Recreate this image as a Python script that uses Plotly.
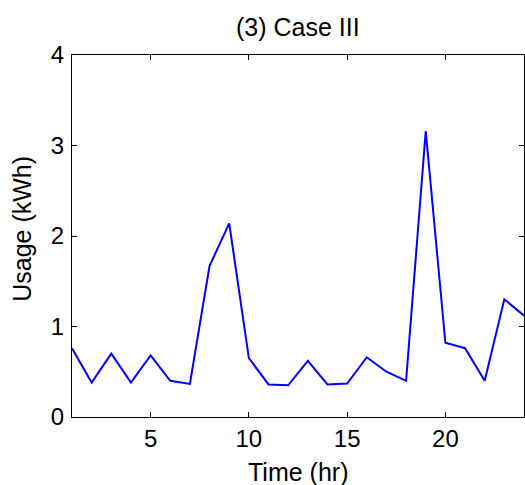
import plotly.graph_objects as go

hours = list(range(1, 25))
usage = [0.76, 0.38, 0.70, 0.38, 0.68, 0.40, 0.365, 1.67, 2.14, 0.65, 0.36, 0.35,
         0.62, 0.36, 0.37, 0.66, 0.50, 0.40, 3.16, 0.82, 0.76, 0.40, 1.30, 1.12]
x_ticks = [5, 10, 15, 20]
y_ticks = [0, 1, 2, 3, 4]
title_text = "(3) Case III"
x_label = "Time (hr)"
y_label = "Usage (kWh)"

FONT = "Liberation Sans, Arial, sans-serif"

fig = go.Figure()
fig.add_trace(go.Scatter(x=hours, y=usage, mode="lines",
                         line=dict(color="rgb(0,0,255)", width=2)))

axis_common = dict(showgrid=False, zeroline=False, showline=True, linecolor="black",
                   linewidth=1, mirror="ticks", ticks="inside", ticklen=5,
                   tickcolor="black", tickwidth=1,
                   tickfont=dict(family=FONT, size=24, color="black"))

fig.update_xaxes(range=[1, 24], tickvals=x_ticks, **axis_common)
fig.update_yaxes(range=[0, 4], tickvals=y_ticks, ticklabelstandoff=2, **axis_common)

fig.update_layout(
    width=525, height=485,
    margin=dict(l=72, r=1, t=55, b=68),
    paper_bgcolor="white", plot_bgcolor="white",
    showlegend=False,
    annotations=[
        dict(text=title_text, xref="paper", yref="paper", x=0.5, y=1.077,
             xanchor="center", yanchor="middle", showarrow=False,
             font=dict(family=FONT, size=25, color="black")),
        dict(text=x_label, xref="paper", yref="paper", x=0.5, y=-55 / 362,
             xanchor="center", yanchor="middle", showarrow=False,
             font=dict(family=FONT, size=25, color="black")),
        dict(text=y_label, xref="paper", yref="paper", x=-50 / 452, y=0.52,
             xanchor="center", yanchor="middle", showarrow=False, textangle=-90,
             font=dict(family=FONT, size=25, color="black")),
    ],
)

fig.write_html("out.html", config={"displayModeBar": False},
               post_script="document.body.style.margin='0';")
